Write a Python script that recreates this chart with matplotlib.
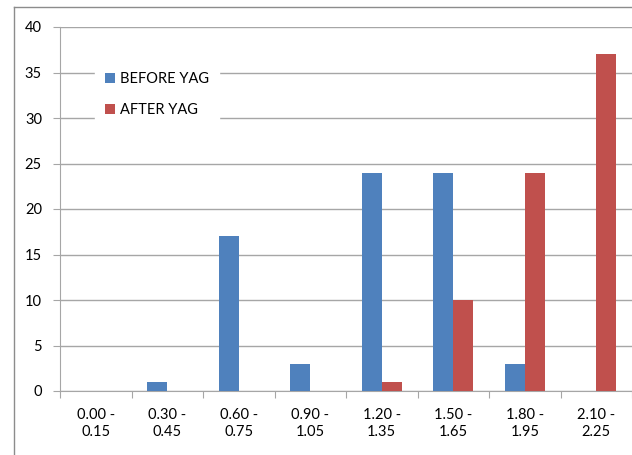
import numpy as np
import matplotlib.pyplot as plt
from matplotlib.lines import Line2D

plt.rcParams['font.family'] = ['Lato', 'DejaVu Sans']

categories = ['0.00 -\n0.15', '0.30 -\n0.45', '0.60 -\n0.75', '0.90 -\n1.05',
              '1.20 -\n1.35', '1.50 -\n1.65', '1.80 -\n1.95', '2.10 -\n2.25']
before_yag = [0, 1, 17, 3, 24, 24, 3, 0]
after_yag = [0, 0, 0, 0, 1, 10, 24, 37]

fig = plt.figure(figsize=(6.32, 4.55), dpi=100)
ax = fig.add_axes([60/632, 64/455, 572/632, 364/455])

x = np.arange(len(categories))
w = 0.28
ax.bar(x - w/2, before_yag, w, color='#4F81BD', label='BEFORE YAG', zorder=3)
ax.bar(x + w/2, after_yag, w, color='#C0504D', label='AFTER YAG', zorder=3)

ax.set_xlim(-0.5, len(categories) - 0.5)
ax.set_ylim(0, 40)
ax.set_yticks(np.arange(0, 41, 5))
ax.yaxis.grid(True, color='#A6A6A6', linewidth=1.0, zorder=0)

# category labels between boundary ticks
ax.set_xticks(np.arange(-0.5, len(categories), 1.0))
ax.set_xticklabels([])
ax.set_xticks(x, minor=True)
ax.set_xticklabels(categories, minor=True, fontsize=10.5, linespacing=1.3)
ax.tick_params(axis='x', which='minor', length=0, pad=12)
ax.tick_params(axis='x', which='major', length=5, color='#A6A6A6')
ax.tick_params(axis='y', length=5, color='#A6A6A6', labelsize=10.5, pad=8)

for s in ['top', 'right']:
    ax.spines[s].set_visible(False)
for s in ['left', 'bottom']:
    ax.spines[s].set_color('#A6A6A6')

leg = ax.legend(loc='upper left', bbox_to_anchor=(0.061, 0.905), borderaxespad=0,
                frameon=True, fancybox=False, edgecolor='white', facecolor='white',
                framealpha=1, handlelength=0.7, handleheight=0.7, handletextpad=0.3,
                labelspacing=1.2, fontsize=10.5, borderpad=0.7)
leg.set_zorder(5)

# outer chart border
fig.add_artist(Line2D([14/632, 14/632], [0, 1 - 7/455], color='#8C8C8C', linewidth=1.0))
fig.add_artist(Line2D([14/632, 1], [1 - 7/455, 1 - 7/455], color='#8C8C8C', linewidth=1.0))

plt.savefig('out.png', dpi=100)
